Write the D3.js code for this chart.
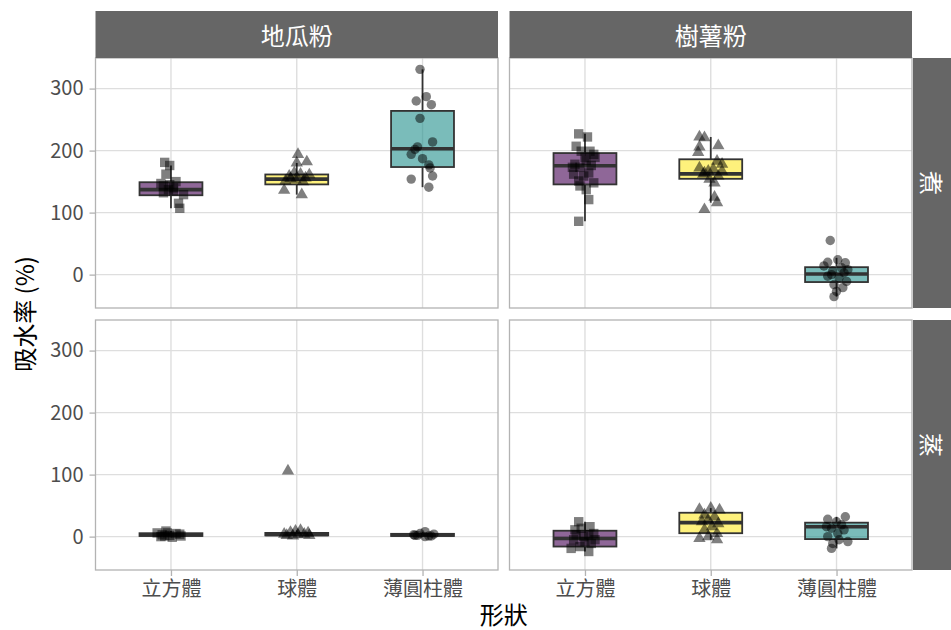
<!DOCTYPE html>
<html>
<head>
<meta charset="utf-8">
<script src="https://cdn.jsdelivr.net/npm/d3@7"></script>
<style>
  body { margin: 0; background: #fff; }
  svg { display: block; }
  text { font-family: "Noto Sans CJK TC", "Noto Sans", sans-serif; }
</style>
</head>
<body>
<svg id="chart" width="951" height="630"></svg>
<script>
// Facets and categories
const flours = ["地瓜粉", "樹薯粉"];
const methods = ["煮", "蒸"];
const shapes = ["立方體", "球體", "薄圓柱體"];
const yTicks = [0, 100, 200, 300];
const shapeFill = ["#440154", "#FDE725", "#21908C"];

// One entry per group: method, flour, shape
const groupMethod = ["煮", "煮", "煮", "煮", "煮", "煮", "蒸", "蒸", "蒸", "蒸", "蒸", "蒸"];
const groupFlour  = ["地瓜粉", "地瓜粉", "地瓜粉", "樹薯粉", "樹薯粉", "樹薯粉",
                     "地瓜粉", "地瓜粉", "地瓜粉", "樹薯粉", "樹薯粉", "樹薯粉"];
const groupShape  = ["立方體", "球體", "薄圓柱體", "立方體", "球體", "薄圓柱體",
                     "立方體", "球體", "薄圓柱體", "立方體", "球體", "薄圓柱體"];

// Box-plot statistics (water absorption, %)
const whiskerLow  = [107, 129, 141,  86, 116, -35.5, -1, 1, 0, -24, -5, -19];
const q1          = [128, 145.5, 173.5, 145.5, 154.5, -12, 1, 2, 1, -16, 5.5, -4];
const median      = [137, 154, 203, 175.5, 162.5, 1, 3, 3.5, 2.5, -3, 22.5, 16];
const q3          = [149, 161.5, 264, 196, 186, 12, 5.5, 6, 4.5, 9.5, 38.5, 22.5];
const whiskerHigh = [176, 180, 331, 227, 222, 27, 9, 10, 8, 24, 46, 32];

// Individual measurements per group
const pointValues = [
  [181, 176, 162, 150, 143, 137, 135, 129, 132, 115, 107, 147, 140, 145],
  [194, 182, 136, 129, 159, 164, 162, 156, 151, 153, 150, 155, 161, 180],
  [331, 280, 287, 274, 252, 214, 206, 194, 187, 177, 172, 159, 154, 141, 202],
  [227, 222, 207, 199, 194, 189, 178, 176, 173, 164, 162, 159, 151, 148, 143, 137, 121, 86, 189, 173, 184, 199],
  [222, 221, 206, 197, 208, 105, 116, 125, 183, 178, 172, 167, 170, 162, 159, 154, 148, 164, 167],
  [55, -35.5, 20, 24, 19, 11, 6, 3, -2.5, -5, -11, -16, -21, -27, 0, 8, 14],
  [9, 6, 3, 2, 5, 1, -1, 0, 6, 4, 1],
  [4, 7, 9, 10, 6, 2, 3, 4, 1, 2, 106],
  [8, 3, 5, 1, 4, 2, 0, 2, 1],
  [24, 16, 11, 13.5, 3, 5, -5, -8, -11, -16, -24, -19, -5, 0, 3],
  [44, 46, 43, 35, 32, 27, 24, 21, 16, 11, 5, -3, -5, 0],
  [32, 28, 24, 19, 13.5, 11, 5, 0, -8, -11, -19, -5, 16]
];
// Horizontal jitter of each measurement, in category widths
const pointJitter = [
  [-0.05, -0.01, -0.04, 0.04, -0.06, -0.02, 0.02, 0.10, -0.06, 0.06, 0.07, -0.08, 0.02, -0.01],
  [0.01, 0.08, -0.10, 0.04, -0.06, -0.02, 0.03, 0.07, -0.09, -0.01, 0.05, -0.05, 0.10, 0.00],
  [-0.02, -0.05, 0.03, 0.07, -0.02, 0.08, -0.04, -0.09, 0.00, 0.05, 0.06, 0.08, -0.09, 0.05, -0.06],
  [-0.05, 0.02, -0.07, 0.04, 0.07, 0.00, -0.08, 0.05, -0.04, 0.03, -0.09, -0.01, -0.05, 0.07, -0.04, 0.01, 0.03, -0.05, 0.08, -0.10, 0.01, -0.03],
  [-0.09, -0.05, -0.09, -0.10, 0.06, -0.05, 0.05, 0.03, 0.05, 0.09, -0.09, -0.02, 0.02, -0.06, 0.06, -0.01, 0.03, -0.05, 0.09],
  [-0.05, -0.02, -0.07, 0.01, 0.07, 0.04, -0.03, 0.06, -0.07, 0.02, 0.08, -0.02, 0.05, 0.00, -0.04, 0.09, -0.10],
  [-0.04, -0.11, -0.07, -0.01, 0.04, 0.08, 0.01, -0.08, -0.03, 0.07, -0.05],
  [-0.10, -0.05, -0.01, 0.03, 0.09, -0.08, 0.01, 0.06, -0.03, 0.10, -0.07],
  [0.02, -0.07, -0.02, 0.05, 0.09, -0.04, 0.02, -0.06, 0.07],
  [-0.05, 0.04, -0.08, -0.03, 0.03, 0.07, -0.09, 0.00, 0.05, -0.04, 0.03, -0.11, 0.08, -0.01, -0.07],
  [-0.09, 0.00, 0.07, -0.05, 0.03, -0.02, -0.07, 0.06, 0.01, -0.05, 0.05, -0.09, 0.05, -0.02],
  [0.07, -0.07, 0.00, 0.04, -0.04, 0.06, 0.01, -0.07, 0.09, -0.03, -0.04, 0.02, -0.08]
];

// Layout of the facet grid
const svg = d3.select("#chart");
const colX = [95.5, 509.5];
const panelW = 402.5;
const rowY = [58, 320];
const panelH = 250;
const stripTop = 11;
const stripRightX = 913;

const gridColor = "#dedede";
const borderColor = "#b3b3b3";
const stripColor = "#666666";
const boxLine = "#333333";

const allValues = whiskerLow.concat(whiskerHigh, pointValues.flat());
const vMin = d3.min(allValues), vMax = d3.max(allValues);
const vPad = (vMax - vMin) * 0.05;

const yScales = rowY.map(top => d3.scaleLinear()
  .domain([vMin - vPad, vMax + vPad])
  .range([top + panelH, top]));
const xScales = colX.map(left => d3.scalePoint()
  .domain(shapes)
  .range([left, left + panelW])
  .padding(0.6));

const symbolTypes = { "立方體": d3.symbolSquare, "球體": d3.symbolTriangle, "薄圓柱體": d3.symbolCircle };
const symbolSizes = { "立方體": 88, "球體": 66, "薄圓柱體": 70 };
const fillOf = s => shapeFill[shapes.indexOf(s)];

methods.forEach((m, r) => {
  flours.forEach((f, c) => {
    const x = xScales[c], y = yScales[r];
    const g = svg.append("g");
    const left = colX[c], top = rowY[r];

    g.append("rect").attr("x", left).attr("y", top)
      .attr("width", panelW).attr("height", panelH).attr("fill", "#fff");

    // grid
    g.selectAll(".hgrid").data(yTicks).join("line")
      .attr("x1", left).attr("x2", left + panelW)
      .attr("y1", d => y(d)).attr("y2", d => y(d))
      .attr("stroke", gridColor).attr("stroke-width", 1.4);
    g.selectAll(".vgrid").data(shapes).join("line")
      .attr("x1", d => x(d)).attr("x2", d => x(d))
      .attr("y1", top).attr("y2", top + panelH)
      .attr("stroke", gridColor).attr("stroke-width", 1.4);

    const idx = d3.range(groupMethod.length)
      .filter(i => groupMethod[i] === m && groupFlour[i] === f);
    const bw = x.step() * 0.5;

    idx.forEach(i => {
      const cx = x(groupShape[i]);
      // whiskers
      g.append("line").attr("x1", cx).attr("x2", cx)
        .attr("y1", y(whiskerHigh[i])).attr("y2", y(q3[i]))
        .attr("stroke", boxLine).attr("stroke-width", 1.8);
      g.append("line").attr("x1", cx).attr("x2", cx)
        .attr("y1", y(q1[i])).attr("y2", y(whiskerLow[i]))
        .attr("stroke", boxLine).attr("stroke-width", 1.8);
      // box
      g.append("rect")
        .attr("x", cx - bw / 2).attr("width", bw)
        .attr("y", y(q3[i])).attr("height", Math.max(0.1, y(q1[i]) - y(q3[i])))
        .attr("fill", fillOf(groupShape[i])).attr("fill-opacity", 0.6)
        .attr("stroke", boxLine).attr("stroke-width", 1.8);
      // median
      g.append("line")
        .attr("x1", cx - bw / 2).attr("x2", cx + bw / 2)
        .attr("y1", y(median[i])).attr("y2", y(median[i]))
        .attr("stroke", boxLine).attr("stroke-width", 3.6);
    });

    // jittered measurements
    idx.forEach(i => {
      const cx = x(groupShape[i]);
      const sym = d3.symbol().type(symbolTypes[groupShape[i]]).size(symbolSizes[groupShape[i]]);
      g.selectAll(null).data(pointValues[i].map((v, k) => [pointJitter[i][k], v])).join("path")
        .attr("d", sym)
        .attr("transform", d => `translate(${cx + d[0] * x.step()},${y(d[1])})`)
        .attr("fill", "#000").attr("fill-opacity", 0.5);
    });

    // panel border
    g.append("rect").attr("x", left).attr("y", top)
      .attr("width", panelW).attr("height", panelH)
      .attr("fill", "none").attr("stroke", borderColor).attr("stroke-width", 1.3);
  });
});

// top strips
flours.forEach((f, c) => {
  svg.append("rect").attr("x", colX[c]).attr("y", stripTop)
    .attr("width", panelW).attr("height", rowY[0] - stripTop).attr("fill", stripColor);
  svg.append("text")
    .attr("x", colX[c] + panelW / 2).attr("y", (stripTop + rowY[0]) / 2)
    .attr("text-anchor", "middle").attr("dominant-baseline", "central")
    .attr("fill", "#fff").attr("font-size", 24).text(f);
});

// right strips
methods.forEach((m, r) => {
  svg.append("rect").attr("x", stripRightX).attr("y", rowY[r])
    .attr("width", 951 - stripRightX).attr("height", panelH).attr("fill", stripColor);
  const cx = (stripRightX + 951) / 2, cy = rowY[r] + panelH / 2;
  svg.append("text")
    .attr("transform", `translate(${cx},${cy}) rotate(90)`)
    .attr("text-anchor", "middle").attr("dominant-baseline", "central")
    .attr("fill", "#fff").attr("font-size", 24).text(m);
});

// y axes (left column)
rowY.forEach((top, r) => {
  const ax = svg.append("g").attr("transform", `translate(${colX[0]},0)`)
    .call(d3.axisLeft(yScales[r]).tickValues(yTicks).tickSize(6).tickPadding(6));
  ax.select(".domain").remove();
  ax.selectAll(".tick line").attr("stroke", borderColor).attr("stroke-width", 1.3);
  ax.selectAll(".tick text").attr("fill", "#4d4d4d").attr("font-size", 20)
    .attr("font-family", "'Noto Sans CJK TC', sans-serif");
});

// x axes (bottom row)
colX.forEach((left, c) => {
  const ax = svg.append("g").attr("transform", `translate(0,${rowY[1] + panelH})`)
    .call(d3.axisBottom(xScales[c]).tickSize(6).tickPadding(6));
  ax.select(".domain").remove();
  ax.selectAll(".tick line").attr("stroke", borderColor).attr("stroke-width", 1.3);
  ax.selectAll(".tick text").attr("fill", "#4d4d4d").attr("font-size", 20)
    .attr("font-family", "'Noto Sans CJK TC', sans-serif");
});

// axis titles
svg.append("text")
  .attr("x", (colX[0] + colX[1] + panelW) / 2).attr("y", 624)
  .attr("text-anchor", "middle").attr("fill", "#000").attr("font-size", 24)
  .text("形狀");
svg.append("text")
  .attr("transform", `translate(34,${(rowY[0] + rowY[1] + panelH) / 2}) rotate(-90)`)
  .attr("text-anchor", "middle").attr("fill", "#000").attr("font-size", 24)
  .text("吸水率 (%)");
</script>
</body>
</html>
